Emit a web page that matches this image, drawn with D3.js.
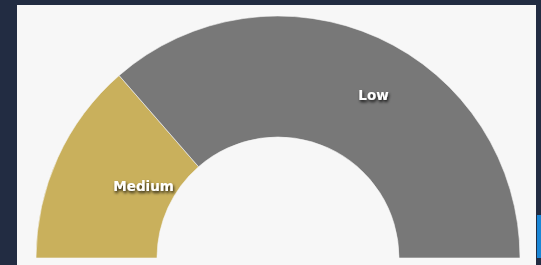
<!DOCTYPE html>
<html>
<head>
<meta charset="utf-8">
<script src="https://cdn.jsdelivr.net/npm/d3@7"></script>
<style>
  html, body { margin: 0; padding: 0; background: #222c42; }
  svg { display: block; }
</style>
</head>
<body>
<svg id="chart" width="541" height="265"></svg>
<script>
const categories = ["Medium", "Low"];
const values = [27.2, 72.8];
const colors = ["#c9b05c", "#787878"];
// label placement (fraction of slice angle, radius fraction of outer radius)
const labelAngleFrac = [0.575, 0.545];
const labelRadiusFrac = [0.63, 0.78];

const W = 541, H = 265;
const svg = d3.select("#chart");

// background
svg.append("rect").attr("width", W).attr("height", H).attr("fill", "#222c42");
svg.append("rect").attr("x", 537).attr("y", 215).attr("width", 4).attr("height", 43).attr("fill", "#1a86d6");
// panel
svg.append("rect").attr("x", 17).attr("y", 5).attr("width", 519).attr("height", H).attr("fill", "#f7f7f7");

const defs = svg.append("defs");
const f = defs.append("filter").attr("id", "ts").attr("x", "-20%").attr("y", "-40%").attr("width", "140%").attr("height", "200%");
f.append("feDropShadow").attr("dx", 1).attr("dy", 2).attr("stdDeviation", 1.6).attr("flood-color", "#000").attr("flood-opacity", 0.85);

const cx = 278, cy = 258, outerR = 242, innerR = 121;

const pie = d3.pie().sort(null).value(d => d)
  .startAngle(-Math.PI / 2).endAngle(Math.PI / 2);
const arcs = pie(values);
const arc = d3.arc().innerRadius(innerR).outerRadius(outerR);

const g = svg.append("g").attr("transform", `translate(${cx},${cy})`);
g.selectAll("path").data(arcs).join("path")
  .attr("d", arc)
  .attr("fill", (d, i) => colors[i])
  .attr("stroke", "#f7f7f7").attr("stroke-width", 0.6);

g.selectAll("text").data(arcs).join("text")
  .attr("transform", (d, i) => {
    const a = d.startAngle + (d.endAngle - d.startAngle) * labelAngleFrac[i];
    const r = outerR * labelRadiusFrac[i];
    return `translate(${r * Math.sin(a)},${-r * Math.cos(a)})`;
  })
  .attr("text-anchor", "middle")
  .attr("dy", "0.35em")
  .attr("font-family", "DejaVu Sans, sans-serif")
  .attr("font-weight", "bold")
  .attr("font-size", 13.5)
  .attr("fill", "#ffffff")
  .attr("filter", "url(#ts)")
  .text((d, i) => categories[i]);
</script>
</body>
</html>
